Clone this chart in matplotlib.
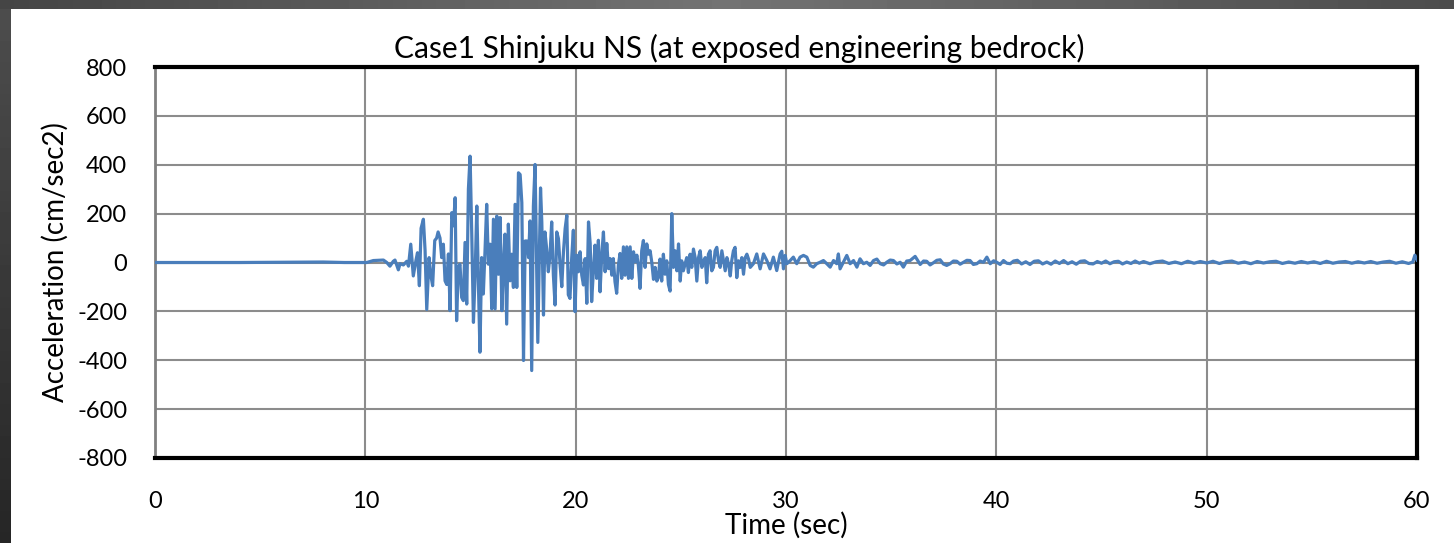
import matplotlib.pyplot as plt
import numpy as np

plt.rcParams['font.family'] = ['Lato', 'DejaVu Sans']
plt.rcParams['axes.unicode_minus'] = False

# Shinjuku NS record, picked off at the turning points of the trace (sec, cm/sec2)
t_pre = [0.0, 4.0, 8.0, 9.0, 10.07, 10.38, 10.86, 11.02, 11.17, 11.33, 11.41, 11.57, 11.65, 11.81, 11.97, 12.05]
a_pre = [0, 0, 2, 0, 0, 8, 10, 0, -15, 5, 10, -30, -5, -10, 5, -15]

t_main = [12.16, 12.28, 12.41, 12.48, 12.57, 12.65, 12.76, 12.84, 12.92, 13.03, 13.11, 13.20, 13.30, 13.39, 13.46,
          13.55, 13.63, 13.71, 13.79, 13.87, 13.95, 14.03, 14.11, 14.19, 14.27, 14.34, 14.42, 14.50, 14.58, 14.66,
          14.74, 14.82, 14.90, 14.98, 15.06, 15.14, 15.22, 15.30, 15.38, 15.45, 15.53, 15.61, 15.69, 15.77, 15.85,
          15.93, 16.01, 16.09, 16.17, 16.25, 16.33, 16.41, 16.49, 16.57, 16.64, 16.72, 16.80, 16.88, 16.96, 17.04,
          17.12, 17.20, 17.28, 17.36, 17.44, 17.52, 17.60, 17.68, 17.76, 17.83, 17.91, 17.99, 18.07, 18.20, 18.33,
          18.39, 18.47, 18.54, 18.62, 18.70, 18.78, 18.86, 18.94, 19.02, 19.10, 19.18, 19.26, 19.34, 19.42, 19.50,
          19.58, 19.65, 19.73, 19.81, 19.89, 19.97]
a_main = [75, -55, 10, 40, -95, 140, 177, 50, -192, 20, -50, -95, 90, 100, 125,
          100, 20, 75, -75, -90, 35, -197, 204, 150, 265, -238, -20, -7, -143, -156,
          82, -170, 300, 435, 116, -245, -50, 231, -102, -367, 20, -129, 48, 238, -7,
          75, -190, 177, -190, 190, -48, 184, -197, -7, 116, -252, 157, -75, 34, -102,
          238, -102, 367, 360, 245, -401, 88, 88, 20, 170, -442, 231, 401, -327, 305,
          166, -215, 125, 57, -38, 30, 166, -52, -174, 125, 98, -11, -99, 44, 139,
          193, -132, -147, 16, 132, -201]

t_coda = [20.05, 20.13, 20.21, 20.29, 20.37, 20.45, 20.53, 20.61, 20.69, 20.76, 20.84, 20.92, 21.00, 21.08, 21.16,
          21.24, 21.32, 21.40, 21.48, 21.56, 21.64, 21.72, 21.79, 21.87, 21.95, 22.03, 22.11, 22.19, 22.27, 22.35,
          22.43, 22.51, 22.59, 22.67, 22.75, 22.83, 22.91, 22.98, 23.06, 23.14, 23.22, 23.30, 23.38, 23.46, 23.54,
          23.62, 23.70, 23.78, 23.86, 23.93, 24.01, 24.09, 24.17, 24.25, 24.33, 24.41, 24.49, 24.57, 24.65, 24.73,
          24.81, 24.89, 24.97, 25.04, 25.12, 25.20, 25.28, 25.36, 25.44, 25.52, 25.60, 25.68, 25.76, 25.84, 25.92,
          26.00, 26.08, 26.16, 26.23, 26.31, 26.39, 26.47, 26.55, 26.63, 26.71, 26.79, 26.87, 26.95, 27.03, 27.11,
          27.19, 27.27, 27.35, 27.42, 27.50, 27.58, 27.66, 27.74, 27.82, 27.90, 27.98, 28.06, 28.14, 28.22, 28.30,
          28.45, 28.61, 28.77, 28.93, 29.09, 29.24, 29.40, 29.56, 29.72, 29.80, 29.88, 29.96]
a_coda = [30, -38, 44, -52, -92, 16, -167, 166, 78, -160, -38, 71, -65, 91, -120,
          30, 125, -38, 78, -25, 16, -52, 16, -79, -126, -11, 37, -65, 64, -52,
          64, -65, 64, -65, 44, 3, 30, -11, -106, 48, 90, -20, 76, 34, 48,
          0, -69, -20, -76, -62, 14, -76, 34, -48, 7, -90, -117, 200, -20, 48,
          -34, 76, -76, 7, -34, -7, 20, -41, 34, -20, 55, 20, -76, 20, 48,
          -20, 7, 20, -83, 34, 48, -34, -20, 48, 62, 7, -20, 48, 7, -34,
          20, -7, -55, 7, 48, 62, -62, 7, -20, 20, -48, 20, 34, 14, -20,
          -5, 35, -26, 35, 8, -26, 22, -33, 35, 46, -26, 29]

t_tail = [30.04, 30.20, 30.35, 30.51, 30.67, 30.83, 30.99, 31.15, 31.30, 31.46, 31.62, 31.78, 31.94, 32.10, 32.26,
          32.41, 32.49, 32.57, 32.73, 32.89, 33.05, 33.21, 33.37, 33.52, 33.68, 33.84, 34.00, 34.16, 34.32, 34.48,
          34.64, 34.79, 34.95, 35.11, 35.27, 35.43, 35.58, 35.74, 35.90, 36.14, 36.38, 36.54, 36.69, 36.85, 37.01,
          37.17, 37.33, 37.48, 37.64, 37.80, 37.96, 38.12, 38.28, 38.44, 38.60, 38.75, 38.91, 39.07, 39.23, 39.39,
          39.55, 39.71, 39.87, 40.02, 40.18, 40.34, 40.50, 40.66, 40.82, 41.00, 41.2, 41.4, 41.6, 41.8, 42.0,
          42.2, 42.4, 42.6, 42.8, 43.0, 43.2, 43.4, 43.6, 43.8, 44.0, 44.2, 44.4, 44.6, 44.8, 45.0,
          45.2, 45.4, 45.6, 45.8, 46.0, 46.2, 46.4, 46.6, 46.8, 47.0, 47.3, 47.6, 47.9, 48.2, 48.5,
          48.8, 49.1, 49.4, 49.7, 50.0, 50.3, 50.6, 50.9, 51.2, 51.5, 51.8, 52.1, 52.4, 52.7, 53.0,
          53.3, 53.6, 53.9, 54.2, 54.5, 54.8, 55.1, 55.4, 55.7, 56.0, 56.3, 56.6, 56.9, 57.2, 57.5,
          57.8, 58.1, 58.4, 58.7, 59.0, 59.3, 59.6, 59.8, 59.9, 60.0]
a_tail = [-5, 8, 22, -5, 22, 29, 22, -12, -19, -5, 1, 8, -5, -19, 8,
          -5, 35, -26, 1, 29, -5, 8, -19, 15, -5, 1, -12, 8, 14, -5,
          -10, 1, 10, 8, -6, 1, -19, 6, 8, 25, -8, 6, 5, -10, -1,
          9, 11, -6, -12, -5, 6, 5, -7, 1, 9, 8, -8, -5, 6, 1,
          22, -5, 7, 1, -8, 8, -3, -5, 6, 9, -6, 3, -8, 5, 7,
          -6, 2, -7, 6, -4, 8, -5, 3, -7, 5, 7, -4, -6, 4, -3,
          6, -5, 3, 5, -6, 2, -4, 6, -3, 4, -5, 3, 6, -4, 2,
          -5, 5, -3, 4, -2, 5, -4, 3, 6, -3, 2, -5, 4, -2, 3,
          5, -4, 2, -3, 4, -2, 3, -4, 5, -3, 2, 4, -3, 3, -2,
          4, -3, 2, 5, -3, 3, -4, 2, 30, 10]

time = np.array(t_pre + t_main + t_coda + t_tail)
acc = np.array(a_pre + a_main + a_coda + a_tail)

fig = plt.figure(figsize=(14.54, 5.43), dpi=100)
fig.patch.set_facecolor('white')

# dark slide frame along the top and left edges
band = fig.add_axes([0, 1 - 9 / 543, 1, 9 / 543])
grad = np.concatenate([np.linspace(0.27, 0.45, 50), np.linspace(0.45, 0.30, 50)])
band.imshow(grad[None, :], aspect='auto', cmap='gray', vmin=0, vmax=1)
band.axis('off')
side = fig.add_axes([0, 0, 11 / 1454, 1 - 9 / 543])
side.imshow(np.linspace(0.30, 0.15, 50)[:, None], aspect='auto', cmap='gray', vmin=0, vmax=1)
side.axis('off')

ax = fig.add_axes([155 / 1454, 85 / 543, 1262 / 1454, 391 / 543])
ax.plot(time, acc, color='#4a7ebb', lw=2.3, zorder=3)

ax.set_xlim(0, 60)
ax.set_ylim(-800, 800)
ax.set_xticks(np.arange(0, 61, 10))
ax.set_yticks(np.arange(-800, 801, 200))
ax.grid(True, color='#8c8c8c', lw=1.5, zorder=1)
ax.tick_params(length=0, labelsize=17)
ax.tick_params(axis='y', pad=20)
ax.tick_params(axis='x', pad=24)

for s in ['top', 'right', 'bottom']:
    ax.spines[s].set_linewidth(3.0)
    ax.spines[s].set_color('black')
ax.spines['left'].set_linewidth(2.0)
ax.spines['left'].set_color('#808080')

ax.set_xlabel('Time (sec)', fontsize=20, labelpad=0)
ax.set_ylabel('Acceleration (cm/sec2)', fontsize=20, labelpad=6)
fig.text(739 / 1454, 1 - 48 / 543, 'Case1 Shinjuku NS (at exposed engineering bedrock)',
         fontsize=21.5, ha='center', va='center')

fig.savefig('out.png', dpi=100)
